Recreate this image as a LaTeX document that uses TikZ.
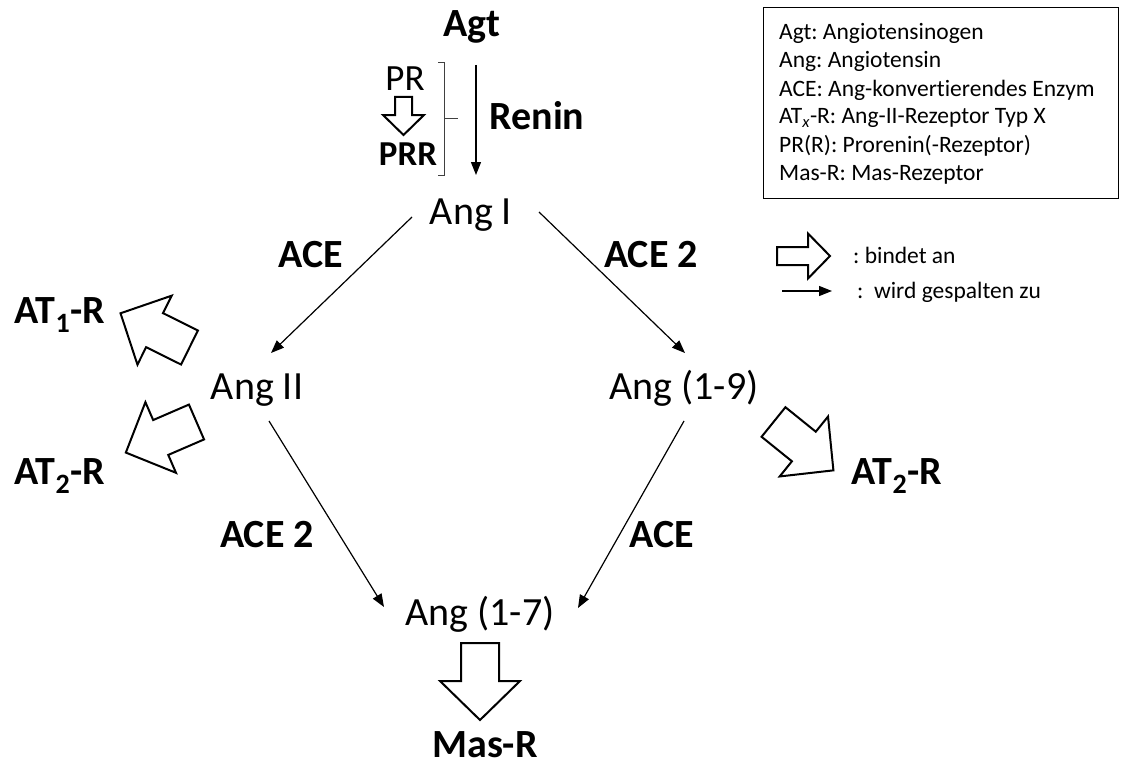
\documentclass[tikz,border=0pt]{standalone}
\usepackage{fontspec}
\setmainfont{Carlito}[Ligatures=NoCommon]
\usetikzlibrary{arrows.meta}
\frenchspacing
\tikzset{
  lbl/.style={inner sep=0pt, anchor=base, font={\fontsize{40}{48}\selectfont}},
  lblb/.style={inner sep=0pt, anchor=base, font={\fontsize{40}{48}\selectfont\bfseries}},
  legtxt/.style={inner sep=0pt, anchor=base west, font={\fontsize{23.5}{28}\selectfont}},
  cut/.style={line width=1.2pt, -{Triangle[length=13pt,width=10pt]}},
  hollow/.style={line width=2pt, line join=miter, fill=white},
  brack/.style={line width=1pt, black!75},
}
\newcommand\hollowarrow[6]{%
  \draw[hollow,shift={(#1)},rotate=#2]
    (0,{#4/2}) -- ({#3-#6},{#4/2}) -- ({#3-#6},{#5/2}) -- (#3,0)
    -- ({#3-#6},{-#5/2}) -- ({#3-#6},{-#4/2}) -- (0,{-#4/2}) -- cycle;}
\begin{document}
\begin{tikzpicture}[x=1pt,y=-1pt]
\useasboundingbox (0,0) rectangle (1125,768);

% main labels
\node[lblb] (agt) at (472,37) {Agt};
\node[inner sep=0pt, anchor=base, font={\fontsize{37}{44}\selectfont}] (pr) at (405,90) {PR};
\node[inner sep=0pt, anchor=base, font={\fontsize{35}{42}\selectfont\bfseries}] (prr) at (408,165) {PRR};
\node[lblb] (renin) at (537,129) {Renin};
\node[lbl] (angI) at (471,224) {Ang I};
\node[lbl] (angII) at (257,399) {Ang II};
\node[lbl] (ang19) at (684,399) {Ang (1-9)};
\node[lbl] (ang17) at (480,625) {Ang (1-7)};
\node[lblb] (masr) at (485,757) {Mas-R};
\node[lblb] (at1) at (60,323) {AT\textsubscript{1}-R};
\node[lblb] (at2l) at (60,484) {AT\textsubscript{2}-R};
\node[lblb] (at2r) at (897,484) {AT\textsubscript{2}-R};
\node[lblb] (aceL) at (311,267) {ACE};
\node[lblb] (ace2R) at (651,267) {ACE 2};
\node[lblb] (ace2L) at (267,547) {ACE 2};
\node[lblb] (aceR) at (662,547) {ACE};

% connector end points
\coordinate (agt-out) at (476,65);
\coordinate (angI-in) at (476,175);
\coordinate (angI-outL) at (412,217);
\coordinate (angII-in) at (271,353);
\coordinate (angI-outR) at (539,212);
\coordinate (ang19-in) at (685,353);
\coordinate (angII-out) at (269,421);
\coordinate (ang17-inL) at (384,607);
\coordinate (ang19-out) at (684,421);
\coordinate (ang17-inR) at (578,608);

% cleavage arrows
\draw[cut] (agt-out) -- (angI-in);
\draw[cut] (angI-outL) -- (angII-in);
\draw[cut] (angI-outR) -- (ang19-in);
\draw[cut] (angII-out) -- (ang17-inL);
\draw[cut] (ang19-out) -- (ang17-inR);

% bracket
\draw[brack] (438,63) -- (444,63) -- (444,175) -- (438,175);
\draw[brack] (444,118) -- (458,118);

% binding arrows
\hollowarrow{403.5,97}{-90}{38}{17}{41}{20}
\hollowarrow{480,643}{-90}{77}{38}{80}{39}
\hollowarrow{189.5,347.5}{153.6}{77}{38}{77}{38}
\hollowarrow{196.5,422}{203.4}{77}{38}{77}{38}
\hollowarrow{773.5,422}{-38.9}{77}{38}{77}{38}

% legend box
\node[draw, line width=1pt, minimum width=355pt, minimum height=190pt, inner sep=0pt] (legend) at (940.5,103) {};
\node[legtxt] (l1) at (779,40) {Agt: Angiotensinogen};
\node[legtxt] (l2) at (779,68) {Ang: Angiotensin};
\node[legtxt] (l3) at (779,96) {ACE: Ang-konvertierendes Enzym};
\node[legtxt] (l4) at (779,124) {AT\textsubscript{\itshape x}-R: Ang-II-Rezeptor Typ X};
\node[legtxt] (l5) at (779,152) {PR(R): Prorenin(-Rezeptor)};
\node[legtxt] (l6) at (779,180) {Mas-R: Mas-Rezeptor};

% key
\hollowarrow{777,256}{0}{53}{18}{45}{22}
\node[legtxt] (kb) at (853,263) {: bindet an};
\coordinate (k1) at (782,291);
\coordinate (k2) at (832,291);
\draw[cut] (k1) -- (k2);
\node[legtxt] (kw) at (857,298) {:\hspace{0.45em}wird gespalten zu};
\end{tikzpicture}
\end{document}
